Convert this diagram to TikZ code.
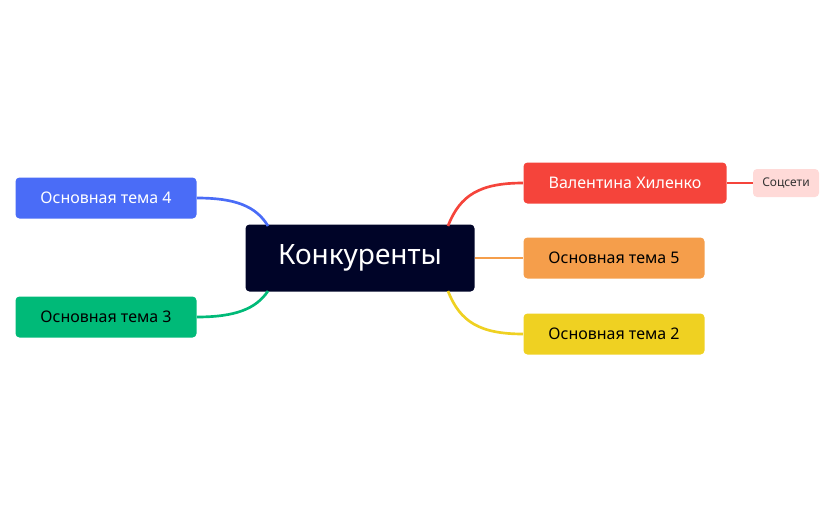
\documentclass[tikz,border=0pt]{standalone}
\usepackage{fontspec}
\setmainfont{Noto Sans}
\usetikzlibrary{positioning}
\definecolor{navy}{HTML}{000428}
\definecolor{tred}{HTML}{F5443B}
\definecolor{tpink}{HTML}{FFDAD8}
\definecolor{torange}{HTML}{F59E4B}
\definecolor{tyellow}{HTML}{EFD122}
\definecolor{tblue}{HTML}{4A6CF7}
\definecolor{tgreen}{HTML}{00BA78}
\tikzset{
  topic/.style={rounded corners=3pt, minimum width=181*0.75pt, minimum height=41*0.75pt, inner sep=0pt, font=\fontsize{12}{14}\selectfont},
  branch/.style={line width=2pt}
}
\begin{document}
\begin{tikzpicture}[x=0.75pt,y=-0.75pt]
  \useasboundingbox (0,0) rectangle (836,518);
  % central topic
  \node[fill=navy, text=white, rounded corners=3pt, minimum width=229*0.75pt, minimum height=67*0.75pt, font=\fontsize{21}{24}\selectfont] (kern) at (360,258) {Конкуренты};
  % right side
  \node[topic, fill=tred, text=white, minimum width=203*0.75pt, font=\fontsize{12}{14}\selectfont\bfseries] (val) at (625,183) {Валентина Хиленко};
  \node[fill=tpink, text=black!80, rounded corners=3pt, minimum width=66*0.75pt, minimum height=28*0.75pt, inner sep=0pt, font=\fontsize{9}{11}\selectfont] (soc) at (786,183) {Соцсети};
  \node[topic, fill=torange] (t5) at (614,258) {Основная тема 5};
  \node[topic, fill=tyellow] (t2) at (614,334) {Основная тема 2};
  % left side
  \node[topic, fill=tblue, text=white, font=\fontsize{12}{14}\selectfont\bfseries] (t4) at (106,198) {Основная тема 4};
  \node[topic, fill=tgreen] (t3) at (106,317) {Основная тема 3};
  % branches
  \coordinate (rt) at (448,226);
  \coordinate (rb) at (448,291);
  \coordinate (lt) at (268,226);
  \coordinate (lb) at (268,291);
  \begin{scope}[on background layer/.style={}]
  \draw[branch, tred] (rt) .. controls (460,195) and (480,183) .. (val.west);
  \draw[branch, tred] (val.east) -- (soc.west);
  \draw[branch, torange] (kern.east) -- (t5.west);
  \draw[branch, tyellow] (rb) .. controls (460,322) and (480,334) .. (t2.west);
  \draw[branch, tblue] (lt) .. controls (256,206) and (235,198) .. (t4.east);
  \draw[branch, tgreen] (lb) .. controls (256,309) and (235,317) .. (t3.east);
  \end{scope}
\end{tikzpicture}
\end{document}
